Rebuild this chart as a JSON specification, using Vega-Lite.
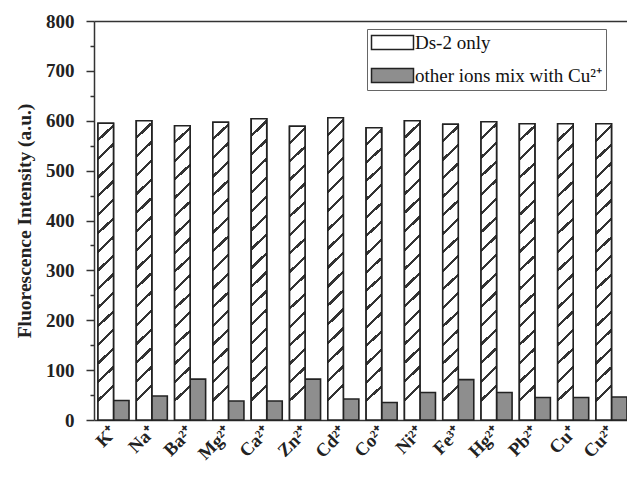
{
  "$schema": "https://vega.github.io/schema/vega-lite/v6.json",
  "autosize": "none",
  "padding": {"left": 94, "top": 21, "right": 0, "bottom": 59},
  "width": 533,
  "height": 399,
  "background": "white",
  "config": {
    "view": {"stroke": null},
    "font": "Liberation Serif",
    "axis": {"labelFont": "Liberation Serif", "titleFont": "Liberation Serif", "labelFontWeight": "bold", "titleFontWeight": "bold", "labelColor": "#222", "titleColor": "#222", "domainColor": "#333", "tickColor": "#333", "domainWidth": 1.5, "tickWidth": 1.5, "grid": false}
  },
  "data": {"values": [
    {"ion": "K⁺", "series": "Ds-2 only", "value": 595},
    {"ion": "K⁺", "series": "other ions mix with Cu²⁺", "value": 39},
    {"ion": "Na⁺", "series": "Ds-2 only", "value": 600},
    {"ion": "Na⁺", "series": "other ions mix with Cu²⁺", "value": 48},
    {"ion": "Ba²⁺", "series": "Ds-2 only", "value": 590},
    {"ion": "Ba²⁺", "series": "other ions mix with Cu²⁺", "value": 82},
    {"ion": "Mg²⁺", "series": "Ds-2 only", "value": 597},
    {"ion": "Mg²⁺", "series": "other ions mix with Cu²⁺", "value": 38},
    {"ion": "Ca²⁺", "series": "Ds-2 only", "value": 604},
    {"ion": "Ca²⁺", "series": "other ions mix with Cu²⁺", "value": 38},
    {"ion": "Zn²⁺", "series": "Ds-2 only", "value": 589},
    {"ion": "Zn²⁺", "series": "other ions mix with Cu²⁺", "value": 82},
    {"ion": "Cd²⁺", "series": "Ds-2 only", "value": 606},
    {"ion": "Cd²⁺", "series": "other ions mix with Cu²⁺", "value": 42},
    {"ion": "Co²⁺", "series": "Ds-2 only", "value": 586},
    {"ion": "Co²⁺", "series": "other ions mix with Cu²⁺", "value": 35},
    {"ion": "Ni²⁺", "series": "Ds-2 only", "value": 600},
    {"ion": "Ni²⁺", "series": "other ions mix with Cu²⁺", "value": 55},
    {"ion": "Fe³⁺", "series": "Ds-2 only", "value": 593},
    {"ion": "Fe³⁺", "series": "other ions mix with Cu²⁺", "value": 81},
    {"ion": "Hg²⁺", "series": "Ds-2 only", "value": 598},
    {"ion": "Hg²⁺", "series": "other ions mix with Cu²⁺", "value": 55},
    {"ion": "Pb²⁺", "series": "Ds-2 only", "value": 594},
    {"ion": "Pb²⁺", "series": "other ions mix with Cu²⁺", "value": 45},
    {"ion": "Cu⁺", "series": "Ds-2 only", "value": 594},
    {"ion": "Cu⁺", "series": "other ions mix with Cu²⁺", "value": 45},
    {"ion": "Cu²⁺", "series": "Ds-2 only", "value": 594},
    {"ion": "Cu²⁺", "series": "other ions mix with Cu²⁺", "value": 46}
  ]},
  "resolve": {"axis": {"x": "independent"}},
  "layer": [
    {
      "mark": {"type": "bar", "stroke": "#222", "strokeWidth": 1.6},
      "encoding": {
        "x": {"field": "ion", "type": "nominal", "sort": null,
              "scale": {"type": "band", "paddingInner": 0.19, "paddingOuter": 0.052, "align": 1},
              "axis": {"orient": "bottom", "title": null, "ticks": false, "tickSize": 0, "labelAngle": -45, "labelAlign": "right", "labelBaseline": "middle", "labelPadding": 9, "labelFontSize": 18.5}},
        "xOffset": {"field": "series", "type": "nominal", "sort": null},
        "y": {"field": "value", "type": "quantitative",
              "scale": {"domain": [0, 800], "nice": false},
              "axis": {"title": "Fluorescence Intensity (a.u.)", "titleFontSize": 19.5, "titleX": -64, "titleBaseline": "alphabetic", "labelFontSize": 19, "labelPadding": 12,
                       "values": [0, 50, 100, 150, 200, 250, 300, 350, 400, 450, 500, 550, 600, 650, 700, 750, 800],
                       "labelExpr": "datum.value % 100 === 0 ? datum.label : ''",
                       "tickSize": {"condition": {"test": "datum.value % 100 === 0", "value": 8}, "value": 4}}},
        "fill": {"field": "series", "type": "nominal", "sort": null,
                 "scale": {"domain": ["Ds-2 only", "other ions mix with Cu²⁺"], "range": ["#ffffff", "#8e8e8e"]},
                 "legend": {"orient": "none", "legendX": 273, "legendY": 8, "title": null, "labelFont": "Liberation Serif", "labelFontSize": 19, "labelColor": "#111", "labelLimit": 400, "labelOffset": 13, "symbolOffset": 12,
                            "symbolType": "M-3,-1H3V1H-3Z", "symbolSize": 196, "rowPadding": 12, "padding": 4, "strokeColor": "#666", "fillColor": "white",
                            "encode": {"symbols": {
                              "stroke": {"value": "#222"},
                              "strokeWidth": {"value": 1.4},
                              "opacity": {"value": 1}
                            }}}}
      }
    },
    {
      "transform": [{"filter": "datum.series === 'Ds-2 only'"}],
      "mark": {"type": "bar", "stroke": "#222", "strokeWidth": 1.6,
               "fill": {"gradient": "linear", "x1": 0, "y1": 0, "x2": 0.05, "y2": 1, "stops": [
                 {"offset": 0, "color": "#fff"}, {"offset": 0.0516, "color": "#fff"}, {"offset": 0.0516, "color": "#333"}, {"offset": 0.0625, "color": "#333"},
                 {"offset": 0.0625, "color": "#fff"}, {"offset": 0.1141, "color": "#fff"}, {"offset": 0.1141, "color": "#333"}, {"offset": 0.125, "color": "#333"},
                 {"offset": 0.125, "color": "#fff"}, {"offset": 0.1766, "color": "#fff"}, {"offset": 0.1766, "color": "#333"}, {"offset": 0.1875, "color": "#333"},
                 {"offset": 0.1875, "color": "#fff"}, {"offset": 0.2391, "color": "#fff"}, {"offset": 0.2391, "color": "#333"}, {"offset": 0.25, "color": "#333"},
                 {"offset": 0.25, "color": "#fff"}, {"offset": 0.3016, "color": "#fff"}, {"offset": 0.3016, "color": "#333"}, {"offset": 0.3125, "color": "#333"},
                 {"offset": 0.3125, "color": "#fff"}, {"offset": 0.3641, "color": "#fff"}, {"offset": 0.3641, "color": "#333"}, {"offset": 0.375, "color": "#333"},
                 {"offset": 0.375, "color": "#fff"}, {"offset": 0.4266, "color": "#fff"}, {"offset": 0.4266, "color": "#333"}, {"offset": 0.4375, "color": "#333"},
                 {"offset": 0.4375, "color": "#fff"}, {"offset": 0.4891, "color": "#fff"}, {"offset": 0.4891, "color": "#333"}, {"offset": 0.5, "color": "#333"},
                 {"offset": 0.5, "color": "#fff"}, {"offset": 0.5516, "color": "#fff"}, {"offset": 0.5516, "color": "#333"}, {"offset": 0.5625, "color": "#333"},
                 {"offset": 0.5625, "color": "#fff"}, {"offset": 0.6141, "color": "#fff"}, {"offset": 0.6141, "color": "#333"}, {"offset": 0.625, "color": "#333"},
                 {"offset": 0.625, "color": "#fff"}, {"offset": 0.6766, "color": "#fff"}, {"offset": 0.6766, "color": "#333"}, {"offset": 0.6875, "color": "#333"},
                 {"offset": 0.6875, "color": "#fff"}, {"offset": 0.7391, "color": "#fff"}, {"offset": 0.7391, "color": "#333"}, {"offset": 0.75, "color": "#333"},
                 {"offset": 0.75, "color": "#fff"}, {"offset": 0.8016, "color": "#fff"}, {"offset": 0.8016, "color": "#333"}, {"offset": 0.8125, "color": "#333"},
                 {"offset": 0.8125, "color": "#fff"}, {"offset": 0.8641, "color": "#fff"}, {"offset": 0.8641, "color": "#333"}, {"offset": 0.875, "color": "#333"},
                 {"offset": 0.875, "color": "#fff"}, {"offset": 0.9266, "color": "#fff"}, {"offset": 0.9266, "color": "#333"}, {"offset": 0.9375, "color": "#333"},
                 {"offset": 0.9375, "color": "#fff"}, {"offset": 1, "color": "#fff"}
               ]}},
      "encoding": {
        "x": {"field": "ion", "type": "nominal", "sort": null,
              "axis": {"orient": "top", "title": null, "labels": false, "ticks": false, "domain": true}},
        "xOffset": {"field": "series", "type": "nominal", "sort": null},
        "y": {"field": "value", "type": "quantitative",
              "axis": {"title": "Fluorescence Intensity (a.u.)", "titleFontSize": 19.5, "titleX": -64, "titleBaseline": "alphabetic", "labelFontSize": 19, "labelPadding": 12,
                       "values": [0, 50, 100, 150, 200, 250, 300, 350, 400, 450, 500, 550, 600, 650, 700, 750, 800],
                       "labelExpr": "datum.value % 100 === 0 ? datum.label : ''",
                       "tickSize": {"condition": {"test": "datum.value % 100 === 0", "value": 8}, "value": 4}}}
      }
    }
  ]
}
